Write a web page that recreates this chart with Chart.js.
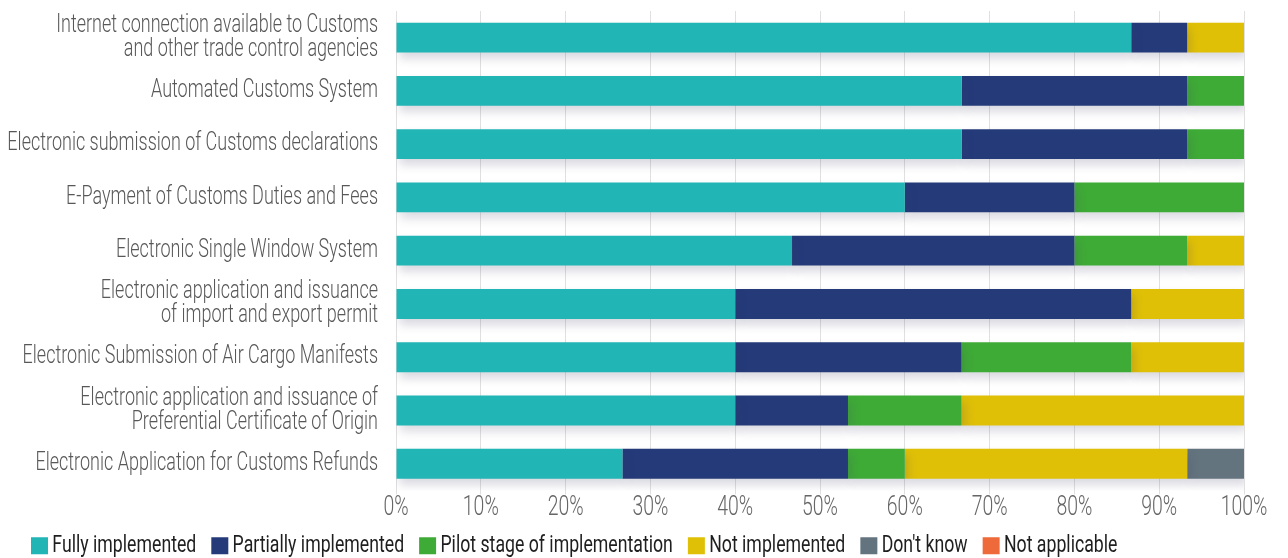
<!DOCTYPE html>
<html>
<head>
<meta charset="utf-8">
<script src="https://cdn.jsdelivr.net/npm/chart.js@4/dist/chart.umd.min.js"></script>
<style>
  html, body { margin: 0; padding: 0; background: #fff; }
  #wrap { width: 1288px; height: 558px; }
</style>
</head>
<body>
<div id="wrap"><canvas id="barChart" width="1288" height="558"></canvas></div>
<script>
// Categories (multi-line labels as arrays)
const categories = [
    ["Internet connection available to Customs", "and other trade control agencies"],
    "Automated Customs System",
    "Electronic submission of Customs declarations",
    "E-Payment of Customs Duties and Fees",
    "Electronic Single Window System",
    ["Electronic application and issuance", "of import and export permit"],
    "Electronic Submission of Air Cargo Manifests",
    ["Electronic application and issuance of", "Preferential Certificate of Origin"],
    "Electronic Application for Customs Refunds"
];

// Series values (percent)
const fullyImplemented     = [86.7, 66.7, 66.7, 60.0, 46.7, 40.0, 40.0, 40.0, 26.7];
const partiallyImplemented = [6.6, 26.6, 26.6, 20.0, 33.3, 46.7, 26.7, 13.3, 26.6];
const pilotStage           = [0, 6.7, 6.7, 20.0, 13.3, 0, 20.0, 13.4, 6.7];
const notImplemented       = [6.7, 0, 0, 0, 6.7, 13.3, 13.3, 33.3, 33.3];
const dontKnow             = [0, 0, 0, 0, 0, 0, 0, 0, 6.7];
const notApplicable        = [0, 0, 0, 0, 0, 0, 0, 0, 0];

const FONT = "Roboto, 'DejaVu Sans', sans-serif";

// work out how much to squeeze text so it looks like the narrow font of the original
const probe = document.createElement('canvas').getContext('2d');
probe.font = "300 25px " + FONT;
const SX = 262 / probe.measureText("Electronic Single Window System").width;

// condensed text: squeeze every label horizontally (and measure it the same way)
// legend text (left aligned) is pulled closer to its colour box
const condense = {
    id: 'condense',
    beforeInit(chart) {
        const c = chart.ctx;
        const fill = c.fillText.bind(c);
        const measure = c.measureText.bind(c);
        c.fillText = function(t, x, y) {
            const dx = c.textAlign === 'left' ? -8 : 0;
            c.save();
            c.translate(x + dx, y);
            c.scale(SX, 1);
            fill(t, 0, 0);
            c.restore();
        };
        c.measureText = function(t) {
            const m = measure(t);
            return {
                width: m.width * SX,
                actualBoundingBoxAscent: m.actualBoundingBoxAscent,
                actualBoundingBoxDescent: m.actualBoundingBoxDescent,
                actualBoundingBoxLeft: m.actualBoundingBoxLeft * SX,
                actualBoundingBoxRight: m.actualBoundingBoxRight * SX
            };
        };
    },
    afterLayout(chart) {
        // legend starts further right than the y labels
        const lg = chart.legend;
        lg.left += 24;
        lg.right += 24;
        lg.top += 5;
        lg.bottom += 5;
    }
};

// soft drop shadow under the bars
const barShadow = {
    id: 'barShadow',
    beforeDatasetsDraw(chart) {
        const ctx = chart.ctx;
        ctx.save();
        ctx.shadowColor = 'rgba(60,60,100,0.2)';
        ctx.shadowBlur = 10;
        ctx.shadowOffsetX = 3;
        ctx.shadowOffsetY = 6;
    },
    afterDatasetsDraw(chart) {
        chart.ctx.restore();
    }
};

document.addEventListener("DOMContentLoaded", function() {
    const ctx = document.getElementById('barChart').getContext('2d');
    new Chart(ctx, {
        type: 'bar',
        data: {
            labels: categories,
            datasets: [
                { label: 'Fully implemented', data: fullyImplemented, backgroundColor: '#22B5B6' },
                { label: 'Partially implemented', data: partiallyImplemented, backgroundColor: '#243A79' },
                { label: 'Pilot stage of implementation', data: pilotStage, backgroundColor: '#3FAB37' },
                { label: 'Not implemented', data: notImplemented, backgroundColor: '#E0C007' },
                { label: "Don't know", data: dontKnow, backgroundColor: '#64747E' },
                { label: 'Not applicable', data: notApplicable, backgroundColor: '#EE6A3A' }
            ]
        },
        options: {
            indexAxis: 'y',
            responsive: false,
            animation: false,
            categoryPercentage: 0.56,
            barPercentage: 1.0,
            layout: { padding: { left: 0, right: 44, top: 11, bottom: -5 } },
            plugins: {
                tooltip: { enabled: false },
                legend: {
                    position: 'bottom',
                    align: 'start',
                    labels: {
                        boxWidth: 17,
                        boxHeight: 17,
                        padding: 7,
                        color: '#1e1e1e',
                        font: { family: FONT, size: 24.6 }
                    }
                }
            },
            scales: {
                x: {
                    stacked: true,
                    min: 0,
                    max: 100,
                    ticks: {
                        stepSize: 10,
                        color: '#666',
                        padding: 0,
                        font: { family: FONT, size: 27, weight: 300, lineHeight: 1 },
                        callback: v => v + '%'
                    },
                    grid: { color: '#e0e0e0', tickLength: 4 },
                    border: { display: false }
                },
                y: {
                    stacked: true,
                    ticks: {
                        autoSkip: false,
                        color: '#585858',
                        padding: 10,
                        font: { family: FONT, size: 25, weight: 300, lineHeight: 0.96 }
                    },
                    grid: { display: false },
                    border: { display: false },
                    afterFit: function(scale) {
                        scale.width = 396;
                        scale.paddingTop = 0;
                        scale.paddingBottom = 0;
                    }
                }
            }
        },
        plugins: [condense, barShadow]
    });
});
</script>
</body>
</html>
